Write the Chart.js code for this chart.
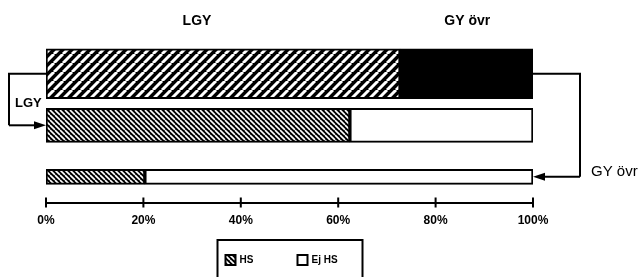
<!DOCTYPE html>
<html>
<head>
<meta charset="utf-8">
<script src="https://cdn.jsdelivr.net/npm/chart.js@4/dist/chart.umd.min.js"></script>
<style>
  html, body { margin: 0; padding: 0; background: #fff; }
  #wrap { width: 643px; height: 277px; }
</style>
</head>
<body>
<div id="wrap"><canvas id="chart" width="643" height="277"></canvas></div>
<script>
/* ========= DATA ========= */
const rowLabels = ['Alla', 'LGY', 'GY övr'];
const mixShare = [72.7, 27.3];      // share of all: LGY, GY övr
const hsShare = [62.4, 20.3];       // HS within LGY, GY övr
const ejHsShare = [37.6, 79.7];     // Ej HS within LGY, GY övr
const tickValues = [0, 20, 40, 60, 80, 100];
const legendLabels = ['HS', 'Ej HS'];

/* ========= HELPERS ========= */
const byId = id => document.getElementById(id);
const FONT = "'Liberation Sans', Arial, sans-serif";
const ctxMain = byId('chart').getContext('2d');

// one value on its own row, nulls elsewhere
const onRow = (row, v) => rowLabels.map((_, i) => (i === row ? v : null));

// diagonal hatch: black tile with white stripes
function hatch(p, lw, dir) {
  const c = document.createElement('canvas');
  c.width = c.height = p;
  const g = c.getContext('2d');
  g.fillStyle = '#000';
  g.fillRect(0, 0, p, p);
  g.strokeStyle = '#fff';
  g.lineWidth = lw;
  g.beginPath();
  for (let k = -1; k <= 2; k++) {
    if (dir === '/') { g.moveTo(k * p, 0); g.lineTo(k * p - p, p); }
    else { g.moveTo(k * p, 0); g.lineTo(k * p + p, p); }
  }
  g.stroke();
  return ctxMain.createPattern(c, 'repeat');
}

const wideHatch = hatch(9, 3, '/');
const denseHatch = hatch(5, 1.6, '\\');

const barBase = { borderColor: '#000', borderWidth: 2, borderSkipped: false };

/* ========= DATASETS ========= */
const datasets = [
  { label: 'LGY', data: onRow(0, mixShare[0]), backgroundColor: wideHatch, barThickness: 50, ...barBase },
  { label: 'GY övr', data: onRow(0, mixShare[1]), backgroundColor: '#000', barThickness: 50, ...barBase },
  { label: legendLabels[0], data: onRow(1, hsShare[0]), backgroundColor: denseHatch, barThickness: 34, ...barBase },
  { label: legendLabels[1], data: onRow(1, ejHsShare[0]), backgroundColor: '#fff', barThickness: 34, ...barBase },
  { label: legendLabels[0], data: onRow(2, hsShare[1]), backgroundColor: denseHatch, barThickness: 15, ...barBase },
  { label: legendLabels[1], data: onRow(2, ejHsShare[1]), backgroundColor: '#fff', barThickness: 15, ...barBase }
];

/* ========= ANNOTATIONS ========= */
function arrowLine(ctx, xFrom, xTo, y) {
  const dir = Math.sign(xTo - xFrom);
  ctx.beginPath();
  ctx.moveTo(xFrom, y);
  ctx.lineTo(xTo - dir * 8, y);
  ctx.stroke();
  ctx.beginPath();
  ctx.moveTo(xTo, y);
  ctx.lineTo(xTo - dir * 12, y - 4);
  ctx.lineTo(xTo - dir * 12, y + 4);
  ctx.closePath();
  ctx.fill();
}

const annotations = {
  id: 'annotations',
  afterDraw(chart) {
    const { ctx, chartArea, scales: { x } } = chart;
    const top = chart.getDatasetMeta(0).data[0];
    const mid = chart.getDatasetMeta(2).data[1];
    const bot = chart.getDatasetMeta(4).data[2];
    const x0 = x.getPixelForValue(0);
    const x1 = x.getPixelForValue(100);

    ctx.save();
    ctx.strokeStyle = '#000';
    ctx.fillStyle = '#000';
    ctx.lineWidth = 2;

    // headings over the top bar
    ctx.font = 'bold 14px ' + FONT;
    ctx.textAlign = 'center';
    ctx.textBaseline = 'middle';
    ctx.fillText('LGY', x.getPixelForValue(31), 21);
    ctx.fillText('GY övr', x.getPixelForValue(86.5), 21);

    // left connector: top bar -> LGY bar
    const lx = 9;
    ctx.beginPath();
    ctx.moveTo(x0, top.y);
    ctx.lineTo(lx, top.y);
    ctx.lineTo(lx, mid.y);
    ctx.stroke();
    arrowLine(ctx, lx, x0, mid.y);
    ctx.font = 'bold 13px ' + FONT;
    ctx.textAlign = 'left';
    ctx.fillText('LGY', 15, (top.y + top.height / 2 + mid.y - mid.height / 2) / 2);

    // right connector: top bar -> GY övr bar
    const rx = 580;
    ctx.beginPath();
    ctx.moveTo(x1, top.y);
    ctx.lineTo(rx, top.y);
    ctx.lineTo(rx, bot.y);
    ctx.stroke();
    arrowLine(ctx, rx, x1, bot.y);
    ctx.font = '15px ' + FONT;
    ctx.fillText('GY övr', 591, bot.y - 5);

    // axis tick crosses
    const ay = chartArea.bottom;
    ctx.beginPath();
    tickValues.forEach(v => {
      const px = x.getPixelForValue(v);
      ctx.moveTo(px, ay - 5);
      ctx.lineTo(px, ay + 5);
    });
    ctx.stroke();

    // legend box
    const cx = (chartArea.left + chartArea.right) / 2;
    const ly = 260;
    ctx.strokeRect(cx - 72, 240, 145, 45);
    ctx.font = 'bold 10px ' + FONT;
    ctx.textBaseline = 'middle';
    ctx.fillStyle = denseHatch;
    ctx.fillRect(cx - 64, ly - 5, 10, 10);
    ctx.strokeRect(cx - 64, ly - 5, 10, 10);
    ctx.fillStyle = '#000';
    ctx.fillText(legendLabels[0], cx - 50, ly);
    ctx.fillStyle = '#fff';
    ctx.fillRect(cx + 8, ly - 5, 10, 10);
    ctx.strokeRect(cx + 8, ly - 5, 10, 10);
    ctx.fillStyle = '#000';
    ctx.fillText(legendLabels[1], cx + 22, ly);
    ctx.restore();
  }
};

/* ========= CHART ========= */
new Chart(ctxMain, {
  type: 'bar',
  data: { labels: rowLabels, datasets },
  options: {
    indexAxis: 'y',
    responsive: false,
    devicePixelRatio: 1,
    animation: false,
    layout: { padding: { left: 46, right: 110, top: 48, bottom: 38 } },
    plugins: { legend: { display: false }, tooltip: { enabled: false } },
    scales: {
      x: {
        type: 'linear',
        min: 0,
        max: 100,
        stacked: true,
        grid: { display: false, drawTicks: false },
        border: { display: true, color: '#000', width: 2 },
        afterBuildTicks: s => { s.ticks = tickValues.map(v => ({ value: v })); },
        ticks: {
          callback: v => v + '%',
          color: '#000',
          padding: 11,
          maxRotation: 0,
          autoSkip: false,
          font: { family: FONT, size: 12, weight: 'bold' }
        }
      },
      y: {
        type: 'category',
        stacked: true,
        display: false,
        offset: true
      }
    }
  },
  plugins: [annotations]
});
</script>
</body>
</html>
